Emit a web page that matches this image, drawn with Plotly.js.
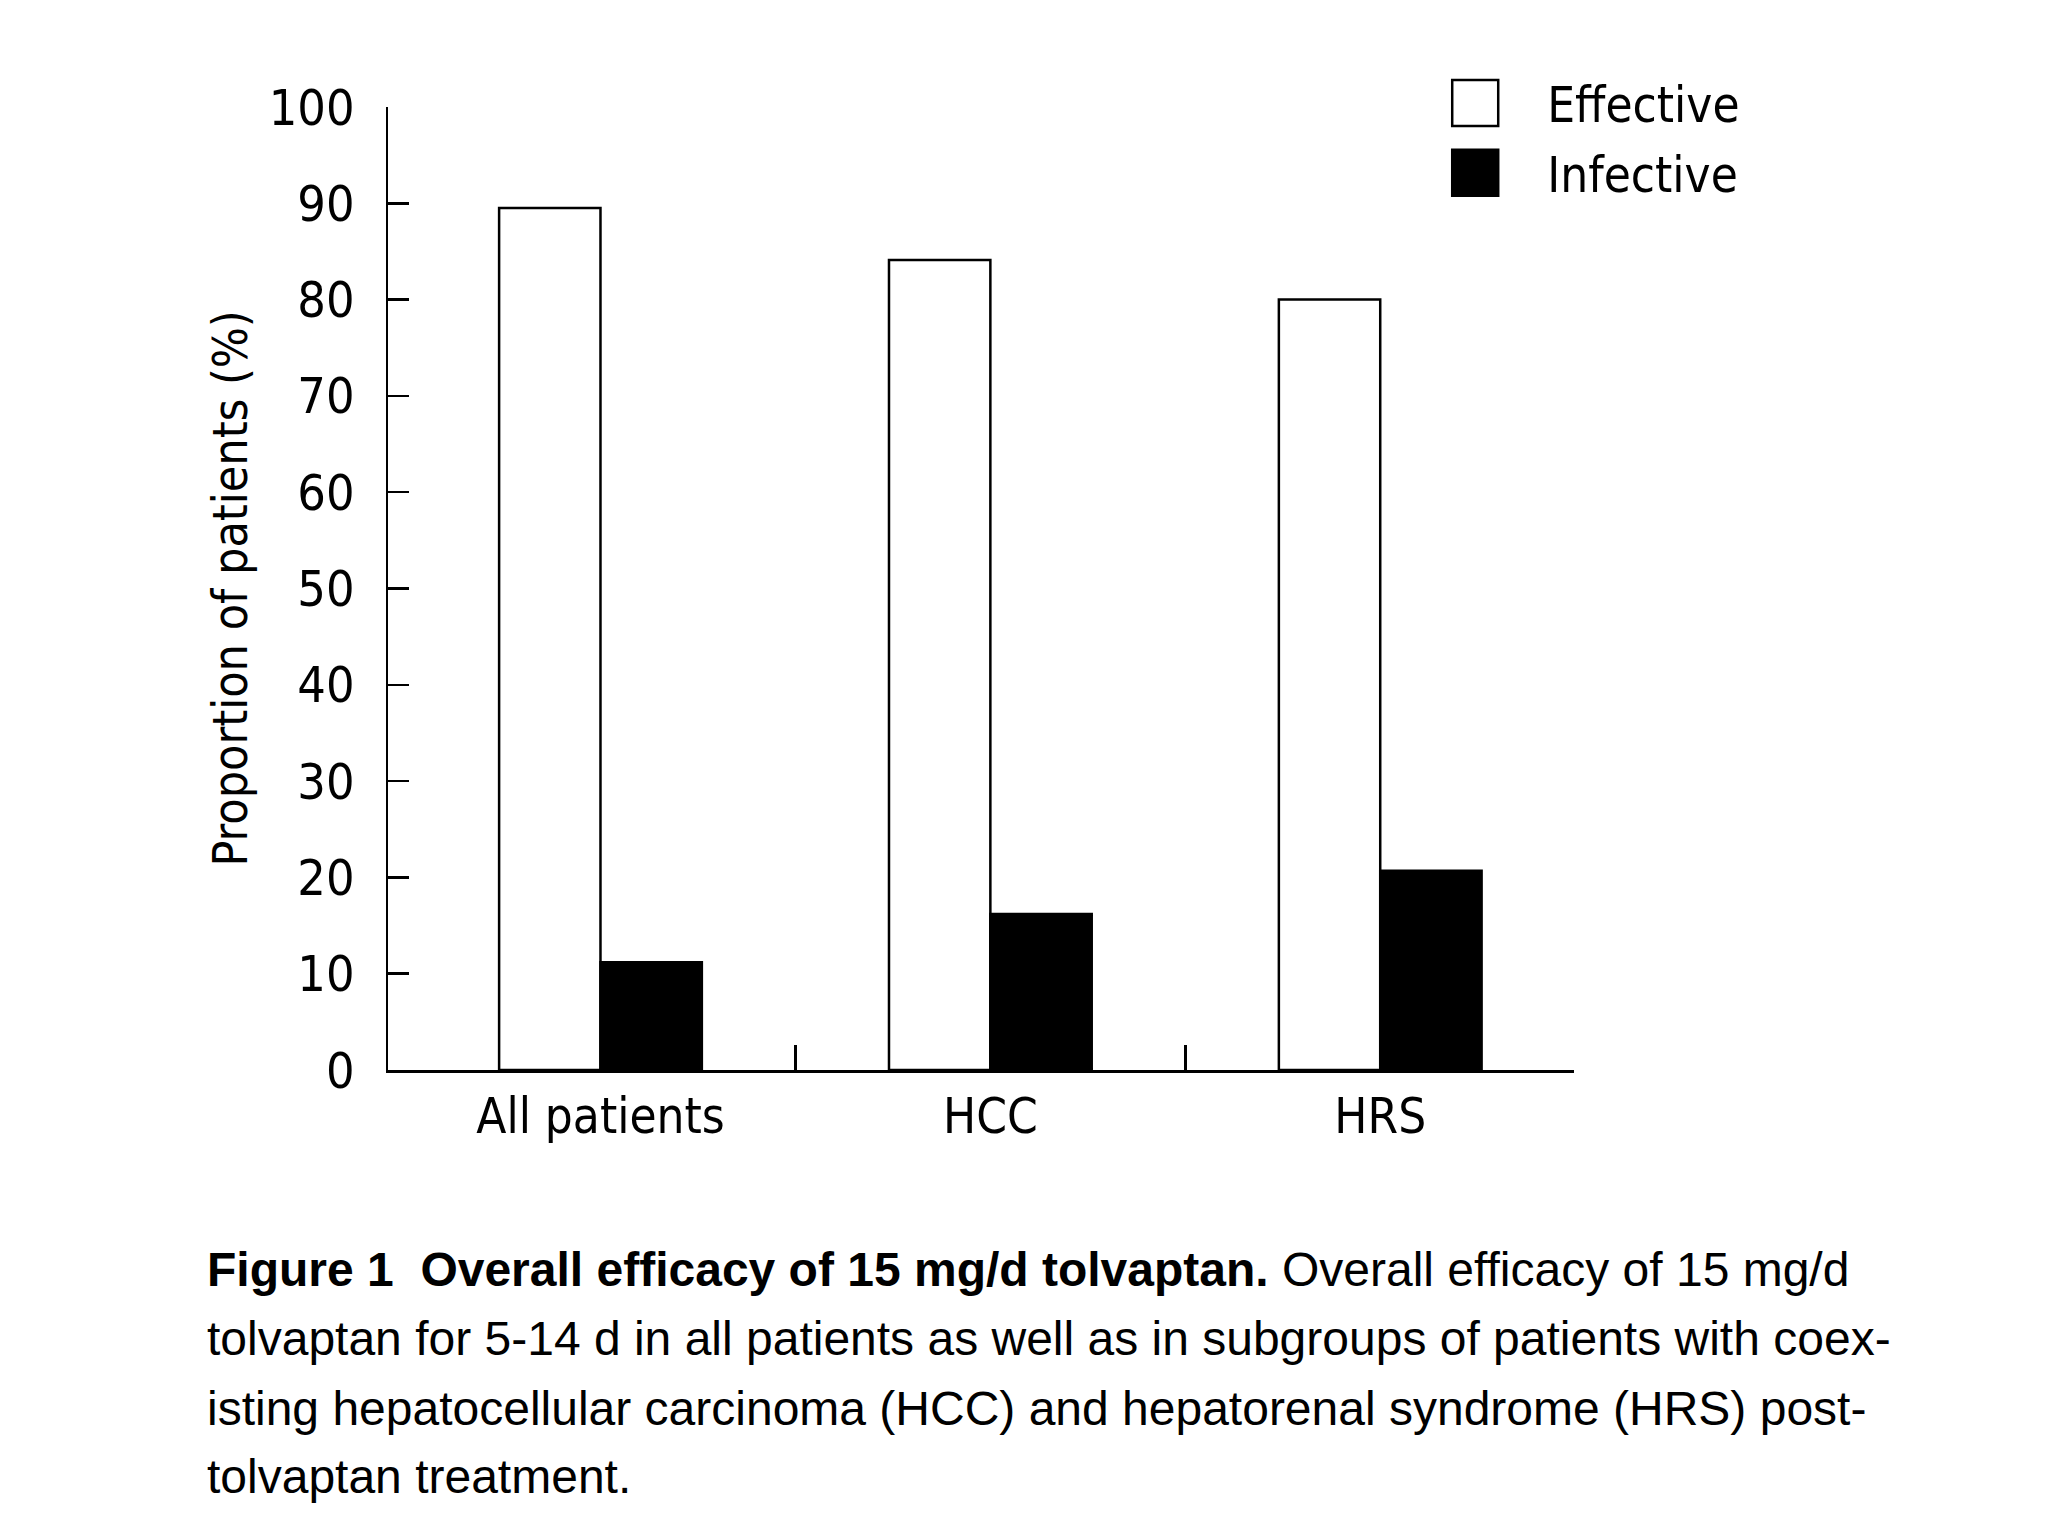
<!DOCTYPE html>
<html>
<head>
<meta charset="utf-8">
<script src="https://cdn.plot.ly/plotly-3.0.1.min.js"></script>
<style>html,body{margin:0;padding:0;background:#fff;}</style>
</head>
<body>
<div id="chart" style="width:2048px;height:1536px;"></div>
<script>
var categories = ["All patients", "HCC", "HRS"];
var effective = [89.5, 84.1, 80.0];
var infective = [11.2, 16.2, 20.7];
var yTicks = [0, 10, 20, 30, 40, 50, 60, 70, 80, 90, 100];
var groupBoundaries = [0.5, 1.5];
var seriesNames = ["Effective", "Infective"];
var captionLines = [
  "<b>Figure 1  Overall efficacy of 15 mg/d tolvaptan.</b> Overall efficacy of 15 mg/d",
  "tolvaptan for 5-14 d in all patients as well as in subgroups of patients with coex-",
  "isting hepatocellular carcinoma (HCC) and hepatorenal syndrome (HRS) post-",
  "tolvaptan treatment."];

var fam = "DejaVu Sans Condensed, DejaVu Sans, sans-serif";
var tickFont = {family: fam, size: 50, color: "#000"};
var labelFont = {family: fam, size: 49, color: "#000"};
var titleFont = {family: fam, size: 48, color: "#000"};
var xRange = [-0.545, 2.497];

var traces = [
  {type: "bar", name: seriesNames[0], legendgroup: "a", x: categories, y: effective,
   marker: {color: "#ffffff", line: {color: "#000", width: 2.5}}},
  {type: "bar", name: seriesNames[1], legendgroup: "b", x: categories, y: infective,
   marker: {color: "#000000", line: {color: "#000", width: 2.5}}},
  {type: "scatter", mode: "markers", x: [], y: [], xaxis: "x2", yaxis: "y",
   showlegend: false, hoverinfo: "skip"}
];

var captionY = [-0.2067, -0.2793, -0.3510, -0.4216];
var annotations = captionLines.map(function (t, i) {
  return {xref: "paper", yref: "paper", x: -0.154, y: captionY[i], xanchor: "left", yanchor: "middle",
          align: "left", showarrow: false,
          font: {family: "Liberation Sans Narrow, Liberation Sans, Arial, sans-serif", size: 48, color: "#000"},
          text: t};
});

var layout = {
  width: 2048, height: 1536,
  paper_bgcolor: "#fff", plot_bgcolor: "#fff",
  margin: {l: 388, r: 474, t: 107, b: 466, pad: 0},
  barmode: "group", bargap: 0.48, bargroupgap: 0,
  font: labelFont,
  showlegend: true,
  legend: {x: 0.856, y: 1.044, xanchor: "left", yanchor: "top", font: labelFont,
           bgcolor: "rgba(0,0,0,0)", itemwidth: 134, tracegroupgap: 3, traceorder: "grouped"},
  xaxis: {type: "category", range: xRange, showgrid: false, zeroline: false,
          showline: true, linecolor: "#000", linewidth: 2.5, ticks: "",
          tickfont: labelFont, ticklabelstandoff: 2, fixedrange: true},
  xaxis2: {type: "linear", overlaying: "x", anchor: "y", side: "bottom", range: xRange,
           tickvals: groupBoundaries, showticklabels: false, showgrid: false, zeroline: false,
           showline: false, ticks: "inside", ticklen: 25, tickwidth: 2.5, tickcolor: "#000", fixedrange: true},
  yaxis: {range: [0, 100], tickvals: yTicks, ticktext: yTicks.map(String), showgrid: false, zeroline: false,
          showline: true, linecolor: "#000", linewidth: 2.5,
          ticks: "inside", ticklen: 21, tickwidth: 2.5, tickcolor: "#000",
          tickfont: tickFont, ticklabelstandoff: 21, automargin: true,
          title: {text: "Proportion of patients (%)", font: titleFont, standoff: 6}},
  annotations: annotations
};

Plotly.newPlot("chart", traces, layout, {staticPlot: true}).then(function () {
  document.querySelectorAll(".legend .legendpoints path").forEach(function (p) {
    p.setAttribute("d", "M23,23H-23V-23H23Z");
  });
});
</script>
</body>
</html>
